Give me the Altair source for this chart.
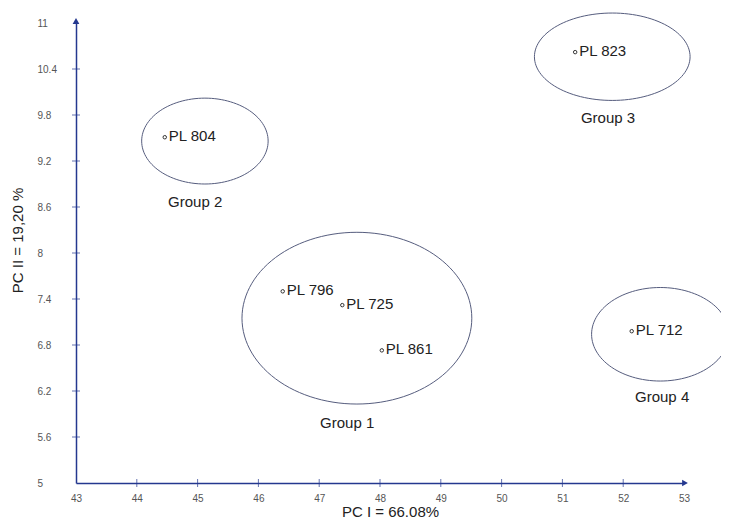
import altair as alt
import numpy as np
import pandas as pd

# ---- data ----
samples = ["PL 804", "PL 823", "PL 796", "PL 725", "PL 861", "PL 712"]
pc1 = [44.46, 51.21, 46.40, 47.38, 48.03, 52.14]
pc2 = [9.51, 10.62, 7.50, 7.32, 6.73, 6.98]

groups = ["Group 1", "Group 2", "Group 3", "Group 4"]
ell_cx = [47.62, 45.12, 51.82, 52.61]
ell_cy = [7.15, 9.46, 10.56, 6.94]
ell_rx = [1.89, 1.04, 1.28, 1.13]
ell_ry = [1.12, 0.56, 0.57, 0.61]
label_x = [47.46, 44.96, 51.75, 52.64]
label_y = [5.78, 8.66, 9.76, 6.12]

x_ticks = [43, 44, 45, 46, 47, 48, 49, 50, 51, 52, 53]
y_ticks = [5, 5.6, 6.2, 6.8, 7.4, 8, 8.6, 9.2, 9.8, 10.4, 11]

AXIS = "#24388f"
ELL = "#565d7e"
FONT = "Liberation Sans"

pts = pd.DataFrame({"label": samples, "x": pc1, "y": pc2})
glab = pd.DataFrame({"label": groups, "x": label_x, "y": label_y})

rows = []
t = np.linspace(0, 2 * np.pi, 121)
for g, cx, cy, rx, ry in zip(groups, ell_cx, ell_cy, ell_rx, ell_ry):
    for i, a in enumerate(t):
        rows.append({"group": g, "i": i, "x": cx + rx * np.cos(a), "y": cy + ry * np.sin(a)})
ell = pd.DataFrame(rows)

xs = alt.Scale(domain=[43, 53], nice=False, zero=False)
ys = alt.Scale(domain=[5, 11], nice=False, zero=False)

x_axis = alt.Axis(values=x_ticks, format="~g", ticks=False, tickSize=0, grid=False,
                  domainColor=AXIS, domainWidth=1.5, labelColor="#555", labelFontSize=10,
                  labelFont=FONT, labelPadding=10, labelBaseline="top", title="PC I = 66.08%",
                  titleFont=FONT, titleFontSize=15, titleFontWeight="normal", titleColor="#222",
                  titleX=314, titleY=36, titleBaseline="bottom", titleAnchor="start",
                  titleAlign="center", labelFlush=False)
y_axis = alt.Axis(values=y_ticks, format="~g", ticks=False, tickSize=0, grid=False,
                  domainColor=AXIS, domainWidth=1.5, labelColor="#555", labelFontSize=10,
                  labelFont=FONT, labelPadding=39, labelAlign="left", labelFlush=False,
                  title="PC II = 19,20 %", titleFont=FONT, titleFontSize=15,
                  titleFontWeight="normal", titleColor="#222", titleAngle=-90,
                  titleX=-59, titleY=217, titleAlign="center", titleBaseline="middle",
                  titleAnchor="start")

base_x = alt.X("x:Q", scale=xs, axis=x_axis)
base_y = alt.Y("y:Q", scale=ys, axis=y_axis)

ellipses = alt.Chart(ell).mark_line(color=ELL, strokeWidth=1).encode(
    x=base_x, y=base_y, detail="group:N", order="i:Q")

points = alt.Chart(pts).mark_point(shape="circle", filled=False, size=12, color="#333",
                                   strokeWidth=1, opacity=1).encode(x="x:Q", y="y:Q")

plabels = alt.Chart(pts).mark_text(align="left", baseline="middle", dx=4, dy=-1,
                                   font=FONT, fontSize=15, color="#222").encode(
    x="x:Q", y="y:Q", text="label:N")

glabels = alt.Chart(glab).mark_text(align="center", baseline="middle",
                                    font=FONT, fontSize=15, color="#222").encode(
    x="x:Q", y="y:Q", text="label:N")

xt = pd.DataFrame({"x": x_ticks[1:-1], "y": [5] * (len(x_ticks) - 2)})
yt = pd.DataFrame({"x": [43] * (len(y_ticks) - 2), "y": y_ticks[1:-1]})
xticks = alt.Chart(xt).mark_tick(orient="vertical", size=8, thickness=1, color=AXIS).encode(
    x="x:Q", y="y:Q")
yticks = alt.Chart(yt).mark_tick(orient="horizontal", size=8, thickness=1, color=AXIS).encode(
    x="x:Q", y="y:Q")

arr_x = alt.Chart(pd.DataFrame({"x": [53], "y": [5]})).mark_point(
    shape="triangle-right", filled=True, size=45, color=AXIS, opacity=1, xOffset=1).encode(
    x="x:Q", y="y:Q")
arr_y = alt.Chart(pd.DataFrame({"x": [43], "y": [11]})).mark_point(
    shape="triangle-up", filled=True, size=45, color=AXIS, opacity=1, yOffset=-2).encode(
    x="x:Q", y="y:Q")

chart = alt.layer(ellipses, xticks, yticks, arr_x, arr_y, points, plabels, glabels).properties(
    width=608, height=460,
    background="white",
    autosize=alt.AutoSizeParams(type="none"),
    padding={"left": 68, "top": 15, "right": 37, "bottom": 36},
).configure_view(stroke="transparent", strokeWidth=0)

chart.save("out.html", embed_options={"renderer": "svg", "actions": False})
